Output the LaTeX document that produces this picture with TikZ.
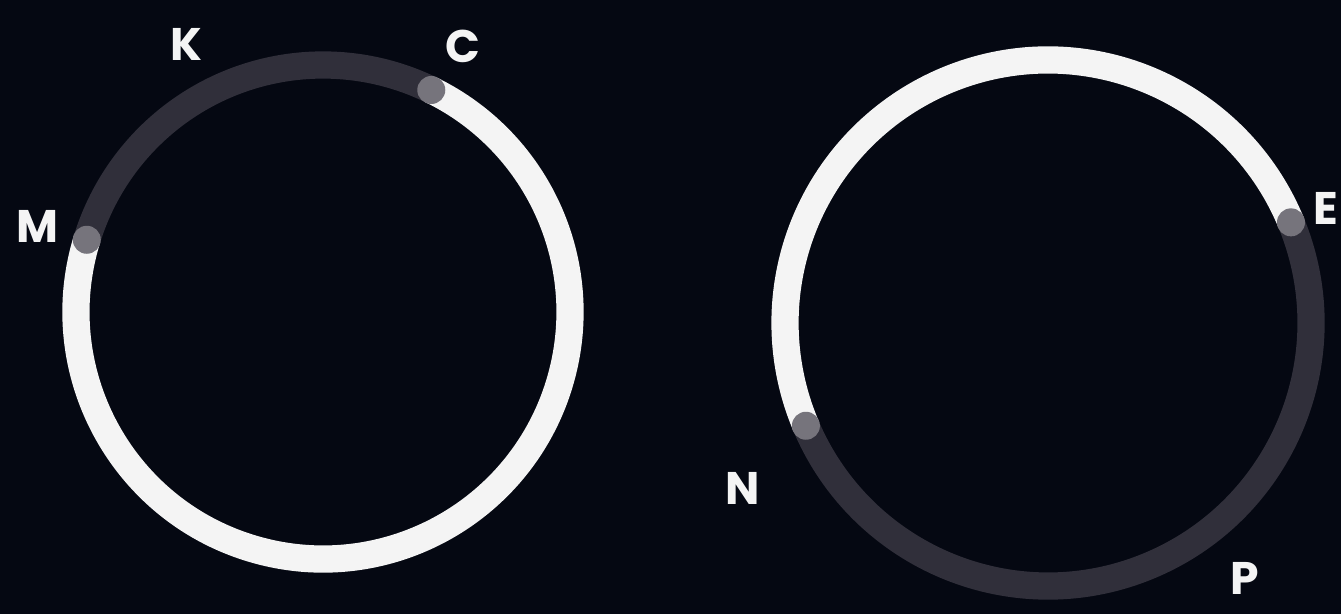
\documentclass[tikz,border=0pt]{standalone}
\usepackage{fontspec}
\setsansfont{Poppins}
\definecolor{bg}{RGB}{5,8,18}
\definecolor{ringwhite}{RGB}{244,244,244}
\definecolor{ringgray}{RGB}{48,47,58}
\definecolor{dotgray}{RGB}{118,116,124}
\begin{document}
\begin{tikzpicture}[line width = 15.5pt,
    lbl/.style = {text = ringwhite, font = \sffamily\bfseries\fontsize{26}{26}\selectfont}]
    \fill[bg] (0,0) rectangle (26.82,12.28);
    \useasboundingbox (0,0) rectangle (26.82,12.28);
    % left ring
    \coordinate (L) at (6.46,6.04);
    \draw[ringgray] (L) ++(64:4.94) arc (64:163:4.94);
    \draw[ringwhite] (L) ++(163:4.94) arc (163:424:4.94);
    \fill[dotgray] (L) ++(64:4.94) coordinate (c) circle (0.28);
    \fill[dotgray] (L) ++(163:4.94) coordinate (m) circle (0.28);
    \node[lbl] (K) at (3.72,11.40) {K};
    \node[lbl] (C) at (9.26,11.36) {C};
    \node[lbl] (M) at (0.74,7.76) {M};
    % right ring
    \coordinate (R) at (20.96,5.82);
    \draw[ringgray] (R) ++(203:5.26) arc (203:382.5:5.26);
    \draw[ringwhite] (R) ++(22.5:5.26) arc (22.5:203:5.26);
    \fill[dotgray] (R) ++(22.5:5.26) coordinate (e) circle (0.28);
    \fill[dotgray] (R) ++(203:5.26) coordinate (n) circle (0.28);
    \node[lbl] (E) at (26.52,8.12) {E};
    \node[lbl] (N) at (14.86,2.52) {N};
    \node[lbl] (P) at (24.90,0.72) {P};
\end{tikzpicture}
\end{document}
